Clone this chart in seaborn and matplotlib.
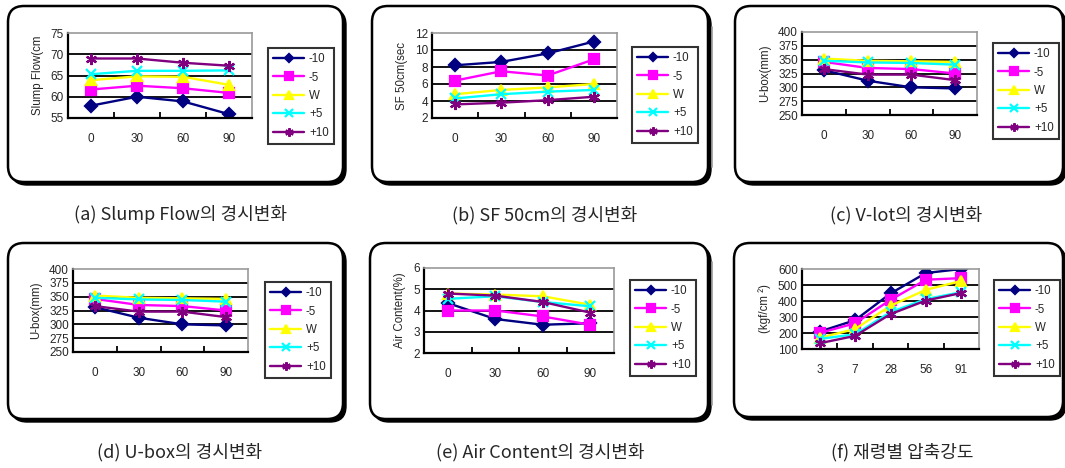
import pandas as pd
import seaborn as sns
import matplotlib.pyplot as plt
from matplotlib.patches import FancyBboxPatch
from matplotlib.ticker import FixedLocator

W, H = 1065, 468

series = ["-10", "-5", "W", "+5", "+10"]
colors = ["#000080", "#FF00FF", "#FFFF00", "#00FFFF", "#800080"]
markers = ["D", "s", "^", "x", (6, 2, 0)]
msizes = [6, 7, 7, 7, 8]

minutes = ["0", "30", "60", "90"]
ages = ["3", "7", "28", "56", "91"]

# (a) slump flow
slump_flow = {
    "-10": [57.9, 60.0, 58.9, 55.9],
    "-5": [61.7, 62.6, 62.0, 60.9],
    "W": [63.9, 64.8, 64.7, 62.8],
    "+5": [65.3, 66.1, 66.1, 66.2],
    "+10": [69.0, 69.0, 68.0, 67.3],
}
# (b) SF 50cm time
sf50 = {
    "-10": [8.2, 8.6, 9.6, 11.0],
    "-5": [6.4, 7.5, 7.0, 8.9],
    "W": [4.8, 5.3, 5.6, 6.0],
    "+5": [4.3, 4.8, 5.1, 5.3],
    "+10": [3.6, 3.8, 4.1, 4.5],
}
# (c) and (d) U-box
ubox = {
    "-10": [331, 312, 300, 298],
    "-5": [346, 335, 333, 325],
    "W": [352, 348, 347, 346],
    "+5": [348, 345, 344, 341],
    "+10": [333, 323, 323, 313],
}
# (e) air content
air = {
    "-10": [4.35, 3.6, 3.33, 3.4],
    "-5": [4.0, 4.0, 3.72, 3.33],
    "W": [4.8, 4.75, 4.67, 4.27],
    "+5": [4.55, 4.67, 4.4, 4.2],
    "+10": [4.8, 4.7, 4.4, 3.9],
}
# (f) compressive strength
strength = {
    "-10": [209, 280, 447, 575, 600],
    "-5": [200, 261, 407, 533, 543],
    "W": [170, 225, 370, 470, 525],
    "+5": [163, 192, 330, 412, 455],
    "+10": [136, 182, 318, 403, 450],
}

captions = ["(a) Slump Flow의 경시변화", "(b) SF 50cm의 경시변화", "(c) V-lot의 경시변화",
            "(d) U-box의 경시변화", "(e) Air Content의 경시변화", "(f) 재령별 압축강도"]

sns.set_style("white")
plt.rcParams['font.family'] = ['Liberation Sans', 'DejaVu Sans']

fig = plt.figure(figsize=(W / 100, H / 100), dpi=100)


def px_rect(x0, y0, x1, y1):
    return [x0 / W, 1 - y1 / H, (x1 - x0) / W, (y1 - y0) / H]


# background panels
ov = fig.add_axes([0, 0, 1, 1], zorder=-1)
ov.set_xlim(0, W)
ov.set_ylim(H, 0)
ov.axis("off")

frames = [(8, 6, 343, 182), (372, 6, 708, 182), (735, 6, 1063, 182),
          (8, 243, 343, 419), (370, 243, 708, 419), (734, 243, 1063, 417)]
for x0, y0, x1, y1 in frames:
    ov.add_patch(FancyBboxPatch((x0 + 3, y0 + 3), x1 - x0, y1 - y0,
                                boxstyle="round,pad=0,rounding_size=16",
                                fc="black", ec="black", lw=1))
    ov.add_patch(FancyBboxPatch((x0, y0), x1 - x0, y1 - y0,
                                boxstyle="round,pad=0,rounding_size=16",
                                fc="white", ec="black", lw=1.8))
ov.plot([712, 712], [27, 167], color="#999999", lw=1.2)
ov.plot([712, 712], [262, 405], color="#999999", lw=1.2)

cap_pos = [(180, 215), (545, 215), (906, 215), (180, 452), (540, 452), (902, 452)]
for (cx, cy), txt in zip(cap_pos, captions):
    ov.text(cx, cy, txt, ha="center", va="center", fontsize=13,
            family=["Noto Sans CJK KR", "DejaVu Sans"])


def draw_panel(rect, cats, data, ylim, yticks, ylabel, leg_xy):
    ax = fig.add_axes(px_rect(*rect))
    for name, c, m, ms in zip(series, colors, markers, msizes):
        sns.lineplot(x=cats, y=data[name], color=c, marker=m, markersize=ms,
                     markeredgecolor=c, markeredgewidth=1.6, linewidth=1.7,
                     errorbar=None, sort=False, ax=ax, legend=False)
    n = len(cats)
    ax.set_xlim(-0.5, n - 0.5)
    ax.set_ylim(*ylim)
    ax.set_yticks(yticks)
    for t in yticks[1:-1]:
        ax.axhline(t, color="black", lw=1.3, zorder=1)
    ax.set_facecolor("white")
    ax.xaxis.set_minor_locator(FixedLocator([i + 0.5 for i in range(n - 1)]))
    ax.tick_params(axis="x", which="major", length=0, pad=11, labelsize=8.5)
    ax.tick_params(axis="x", which="minor", direction="in", length=4, width=1.3, color="black", bottom=True)
    ax.tick_params(axis="y", length=0, pad=3, labelsize=8.5)
    for s in ["left", "bottom"]:
        ax.spines[s].set_color("black")
        ax.spines[s].set_linewidth(1.6)
    for s in ["top", "right"]:
        ax.spines[s].set_color("#999999")
        ax.spines[s].set_linewidth(1.2)
    ax.set_xlabel("")
    ax.set_ylabel(ylabel, fontsize=8.3, labelpad=5)
    leg = ax.legend(handles=ax.lines[:5], labels=series, loc="upper left",
                    bbox_to_anchor=(leg_xy[0] / W, 1 - leg_xy[1] / H),
                    bbox_transform=fig.transFigure, frameon=True, fancybox=False,
                    edgecolor="black", fontsize=8.3, handlelength=2.7,
                    handletextpad=0.4, labelspacing=0.55, borderpad=0.45,
                    borderaxespad=0, markerscale=0.75)
    leg.get_frame().set_linewidth(1.5)
    return ax


draw_panel((68, 33, 252, 118), minutes, slump_flow, (55, 75), [55, 60, 65, 70, 75],
           "Slump Flow(cm", (268, 48))
draw_panel((432, 33, 617, 118), minutes, sf50, (2, 12), [2, 4, 6, 8, 10, 12],
           "SF 50cm(sec", (632, 47))
draw_panel((802, 32, 977, 115), minutes, ubox, (250, 400), list(range(250, 401, 25)),
           "U-box(mm)", (993, 43))
draw_panel((73, 269, 248, 352), minutes, ubox, (250, 400), list(range(250, 401, 25)),
           "U-box(mm)", (265, 282))
draw_panel((424, 268, 614, 353), minutes, air, (2, 6), [2, 3, 4, 5, 6],
           "Air Content(%)", (630, 280))
draw_panel((802, 269, 979, 349), ages, strength, (100, 600), [100, 200, 300, 400, 500, 600],
           "(kgf/cm ²)", (994, 280))

fig.savefig("out.png", dpi=100)
